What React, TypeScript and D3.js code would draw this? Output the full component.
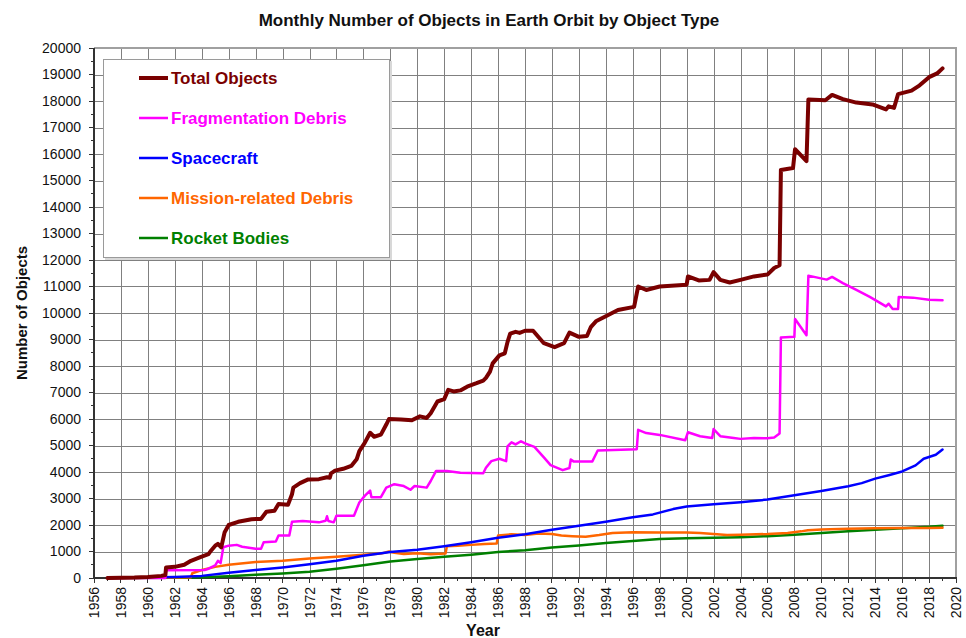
import React, { useEffect, useRef } from "react";
import * as d3 from "d3";

// [year, count] pairs
const totalObjects: [number, number][] = [
  [1957, 0], [1958, 5], [1959, 15], [1960, 40], [1961, 80], [1961.3, 110], [1961.35, 400],
  [1962, 420], [1962.7, 500], [1963.2, 650], [1963.9, 790], [1964.5, 900], [1964.7, 1040],
  [1965, 1220], [1965.2, 1290], [1965.45, 1160], [1965.7, 1730], [1966, 2000], [1966.7, 2120],
  [1967.7, 2220], [1968.4, 2230], [1968.8, 2500], [1969.4, 2540], [1969.7, 2790], [1970.4, 2760],
  [1970.7, 3160], [1970.8, 3410], [1971.3, 3580], [1971.9, 3720], [1972.7, 3730], [1973.3, 3800],
  [1973.5, 3780], [1973.6, 3950], [1973.9, 4050], [1974.5, 4120], [1975.1, 4230], [1975.5, 4480],
  [1975.7, 4790], [1976.1, 5100], [1976.5, 5480], [1976.8, 5330], [1977.3, 5410], [1977.7, 5790],
  [1977.9, 6000], [1978.8, 5980], [1979.6, 5950], [1980.2, 6100], [1980.7, 6040], [1981, 6220],
  [1981.5, 6660], [1982, 6750], [1982.3, 7100], [1982.7, 7040], [1983.2, 7080], [1983.7, 7220],
  [1984.4, 7350], [1984.9, 7450], [1985.1, 7550], [1985.4, 7790], [1985.6, 8100], [1986.1, 8400],
  [1986.5, 8480], [1986.7, 8900], [1986.9, 9220], [1987.3, 9290], [1987.6, 9250], [1988, 9330],
  [1988.6, 9330], [1989.4, 8860], [1990.2, 8710], [1990.9, 8860], [1991.3, 9260], [1992, 9100],
  [1992.6, 9130], [1992.9, 9480], [1993.3, 9700], [1994, 9880], [1994.9, 10110], [1996.1, 10230],
  [1996.4, 11000], [1997, 10870], [1998, 11000], [2000, 11070], [2000.1, 11380], [2000.9, 11230],
  [2001.7, 11250], [2002, 11540], [2002.5, 11250], [2003.2, 11150], [2004, 11250], [2005, 11380],
  [2006, 11450], [2006.5, 11700], [2006.9, 11800], [2007, 15400], [2007.9, 15470], [2008.05, 16180],
  [2008.9, 15730], [2009.04, 18060], [2010.3, 18030], [2010.8, 18230], [2011.6, 18070],
  [2012.6, 17940], [2013.8, 17870], [2014.8, 17680], [2015, 17800], [2015.4, 17740],
  [2015.7, 18260], [2016.7, 18390], [2017.3, 18590], [2018, 18900], [2018.6, 19040], [2019, 19230],
];

const fragmentationDebris: [number, number][] = [
  [1957, 0], [1961.3, 0], [1961.35, 290], [1964.2, 300], [1964.5, 350], [1965, 480], [1965.2, 650],
  [1965.4, 560], [1965.6, 1160], [1966, 1220], [1966.6, 1250], [1967, 1180], [1968, 1100],
  [1968.4, 1100], [1968.6, 1350], [1969.5, 1380], [1969.7, 1600], [1970.5, 1600], [1970.7, 2120],
  [1971.5, 2150], [1972.7, 2100], [1973.2, 2160], [1973.3, 2330], [1973.4, 2150], [1973.8, 2100],
  [1974, 2350], [1975.3, 2350], [1975.7, 2850], [1976.1, 3100], [1976.5, 3300], [1976.6, 3050],
  [1977.3, 3050], [1977.7, 3410], [1978.3, 3540], [1979, 3470], [1979.5, 3330], [1979.8, 3470],
  [1980.7, 3410], [1981, 3660], [1981.4, 4040], [1982.2, 4040], [1983.2, 3970], [1984.9, 3950],
  [1985.1, 4160], [1985.5, 4410], [1986.1, 4500], [1986.6, 4410], [1986.7, 4970], [1987, 5120],
  [1987.3, 5040], [1987.7, 5160], [1988, 5080], [1988.7, 4950], [1989.4, 4550], [1989.9, 4260],
  [1990.8, 4070], [1991.3, 4150], [1991.4, 4470], [1991.6, 4400], [1993, 4400], [1993.4, 4810],
  [1996.3, 4860], [1996.4, 5590], [1997, 5470], [1998, 5400], [1999.9, 5200], [2000.1, 5500],
  [2001, 5350], [2001.9, 5280], [2002, 5620], [2002.5, 5350], [2003.5, 5280], [2004, 5250],
  [2005, 5280], [2006, 5270], [2006.5, 5300], [2006.9, 5450], [2007, 9080], [2008, 9100],
  [2008.05, 9770], [2008.9, 9160], [2009.04, 11410], [2010.4, 11260], [2010.8, 11360],
  [2011.6, 11130], [2012.6, 10870], [2013.6, 10610], [2014.8, 10250], [2015, 10350],
  [2015.3, 10150], [2015.7, 10150], [2015.75, 10600], [2016.8, 10580], [2018, 10500], [2019, 10480],
];

const spacecraft: [number, number][] = [
  [1957, 0], [1960, 20], [1962, 40], [1964, 80], [1966, 200], [1968, 300], [1970, 400],
  [1972, 520], [1974, 650], [1976, 840], [1978, 980], [1980, 1070], [1982, 1200], [1984, 1350],
  [1986, 1520], [1988, 1650], [1990, 1820], [1992, 1970], [1994, 2120], [1996, 2290],
  [1997.5, 2400], [1999, 2600], [2000, 2700], [2002, 2780], [2004, 2860], [2006, 2960],
  [2008, 3120], [2010, 3280], [2012, 3460], [2013, 3580], [2014, 3750], [2015, 3880],
  [2016, 4020], [2017, 4250], [2017.6, 4500], [2018.5, 4650], [2019, 4850],
];

const missionDebris: [number, number][] = [
  [1957, 0], [1961.3, 20], [1963.2, 30], [1963.3, 180], [1964, 300], [1965, 420], [1966, 500],
  [1968, 600], [1970, 650], [1972, 740], [1974, 800], [1976, 880], [1977.3, 920], [1977.9, 1000],
  [1978.3, 950], [1979, 910], [1980, 930], [1981, 900], [1982.1, 920], [1982.2, 1200],
  [1983, 1220], [1984, 1250], [1985, 1280], [1985.9, 1300], [1986, 1600], [1987, 1650],
  [1988, 1620], [1989, 1680], [1990, 1660], [1990.7, 1600], [1991.5, 1580], [1992.5, 1560],
  [1993.5, 1620], [1994.5, 1700], [1996, 1730], [1998, 1720], [2000, 1720], [2001, 1700],
  [2002, 1660], [2003, 1620], [2004, 1630], [2006, 1660], [2007.5, 1700], [2008.5, 1760],
  [2009, 1800], [2010, 1830], [2012, 1860], [2014, 1880], [2016, 1890], [2018, 1890], [2019, 1900],
];

const rocketBodies: [number, number][] = [
  [1957, 0], [1962, 10], [1964, 30], [1966, 70], [1968, 120], [1970, 170], [1972, 240],
  [1974, 350], [1976, 480], [1978, 620], [1980, 720], [1982, 800], [1984, 880], [1986, 980],
  [1988, 1050], [1990, 1150], [1992, 1230], [1994, 1320], [1996, 1400], [1998, 1470],
  [2000, 1500], [2002, 1520], [2004, 1540], [2006, 1580], [2008, 1630], [2010, 1700],
  [2012, 1760], [2014, 1820], [2016, 1880], [2018, 1930], [2019, 1975],
];

const seriesNames = ["Total Objects", "Fragmentation Debris", "Spacecraft", "Mission-related Debris", "Rocket Bodies"];
const seriesColors = ["#7a0000", "#ff00ff", "#0000ff", "#ff6600", "#008000"];
const seriesData = [totalObjects, fragmentationDebris, spacecraft, missionDebris, rocketBodies];

const xTickYears = d3.range(1956, 2021, 2);
const yTickValues = d3.range(0, 20001, 1000);

const App = () => {
  const svgRef = useRef<SVGSVGElement>(null);

  useEffect(() => {
    const W = 966;
    const H = 638;
    const margin = { top: 48, right: 10, bottom: 60, left: 94 };
    const font = "Arial, 'Liberation Sans', sans-serif";

    const root = d3.select(svgRef.current);
    root.selectAll("*").remove();
    root.attr("width", W).attr("height", H);

    const x = d3.scaleLinear().domain([1956, 2020]).range([margin.left, W - margin.right]);
    const y = d3.scaleLinear().domain([0, 20000]).range([H - margin.bottom, margin.top]);

    root.append("rect").attr("width", W).attr("height", H).attr("fill", "#fff");

    // grid
    const grid = root.append("g").attr("stroke", "#808080").attr("stroke-width", 1).attr("shape-rendering", "crispEdges");
    grid.selectAll("line.v").data(xTickYears.slice(1, -1)).enter().append("line")
      .attr("x1", (d) => Math.round(x(d)) + 0.5).attr("x2", (d) => Math.round(x(d)) + 0.5)
      .attr("y1", y(20000)).attr("y2", y(0));
    grid.selectAll("line.h").data(yTickValues.slice(1, -1)).enter().append("line")
      .attr("y1", (d) => Math.round(y(d)) + 0.5).attr("y2", (d) => Math.round(y(d)) + 0.5)
      .attr("x1", x(1956)).attr("x2", x(2020));

    // frame (top/right gray)
    root.append("path")
      .attr("d", `M${x(1956)},${y(20000)}H${x(2020)}V${y(0)}`)
      .attr("fill", "none").attr("stroke", "#a0a0a0").attr("stroke-width", 2);

    // axes
    const axes = root.append("g").attr("stroke", "#333").attr("shape-rendering", "crispEdges");
    axes.append("line").attr("x1", x(1956)).attr("x2", x(1956)).attr("y1", y(20000)).attr("y2", y(0)).attr("stroke-width", 1.5);
    axes.append("line").attr("x1", x(1956)).attr("x2", x(2020) + 1).attr("y1", y(0)).attr("y2", y(0)).attr("stroke-width", 2);

    const yMinor = d3.range(500, 20000, 1000);
    axes.selectAll("line.ym").data(yTickValues).enter().append("line")
      .attr("x1", x(1956) - 5).attr("x2", x(1956)).attr("y1", (d) => y(d)).attr("y2", (d) => y(d));
    axes.selectAll("line.yn").data(yMinor).enter().append("line")
      .attr("x1", x(1956) - 3).attr("x2", x(1956)).attr("y1", (d) => y(d)).attr("y2", (d) => y(d));
    const xMinor = d3.range(1957, 2020, 2);
    axes.selectAll("line.xm").data(xTickYears).enter().append("line")
      .attr("x1", (d) => x(d)).attr("x2", (d) => x(d)).attr("y1", y(0)).attr("y2", y(0) + 5);
    axes.selectAll("line.xn").data(xMinor).enter().append("line")
      .attr("x1", (d) => x(d)).attr("x2", (d) => x(d)).attr("y1", y(0)).attr("y2", y(0) + 3);

    // tick labels
    root.append("g").selectAll("text").data(yTickValues).enter().append("text")
      .attr("x", x(1956) - 13).attr("y", (d) => y(d)).attr("dy", "0.35em")
      .attr("text-anchor", "end").attr("font-family", font).attr("font-size", 14).attr("fill", "#111")
      .text((d) => String(d));
    root.append("g").selectAll("text").data(xTickYears).enter().append("text")
      .attr("transform", (d) => `translate(${x(d)},${y(0) + 9}) rotate(-90)`)
      .attr("dy", "0.36em").attr("text-anchor", "end")
      .attr("font-family", font).attr("font-size", 14).attr("fill", "#111")
      .text((d) => String(d));

    // titles
    root.append("text").attr("x", 489).attr("y", 26).attr("text-anchor", "middle")
      .attr("font-family", font).attr("font-size", 17).attr("font-weight", "bold").attr("fill", "#111")
      .text("Monthly Number of Objects in Earth Orbit by Object Type");
    root.append("text").attr("transform", `translate(27,313) rotate(-90)`).attr("text-anchor", "middle")
      .attr("font-family", font).attr("font-size", 15).attr("font-weight", "bold").attr("fill", "#111")
      .text("Number of Objects");
    root.append("text").attr("x", 483).attr("y", 636).attr("text-anchor", "middle")
      .attr("font-family", font).attr("font-size", 16).attr("font-weight", "bold").attr("fill", "#111")
      .text("Year");

    // lines (draw in reverse so total is on top)
    const line = d3.line<[number, number]>().x((d) => x(d[0])).y((d) => y(d[1]));
    const order = [4, 3, 2, 1, 0];
    order.forEach((i) => {
      root.append("path").datum(seriesData[i]).attr("d", line)
        .attr("fill", "none").attr("stroke", seriesColors[i])
        .attr("stroke-width", i === 0 ? 4 : 2.5)
        .attr("stroke-linejoin", "round").attr("stroke-linecap", "round");
    });

    // legend
    const lg = root.append("g");
    lg.append("rect").attr("x", 105).attr("y", 61).attr("width", 287).attr("height", 199).attr("fill", "#d8d8d8");
    lg.append("rect").attr("x", 103.5).attr("y", 59.5).attr("width", 286).attr("height", 198)
      .attr("fill", "#fff").attr("stroke", "#9a9a9a").attr("stroke-width", 1);
    seriesNames.forEach((name, i) => {
      const cy = 78 + i * 40;
      lg.append("line").attr("x1", 139).attr("x2", 168).attr("y1", cy).attr("y2", cy)
        .attr("stroke", seriesColors[i]).attr("stroke-width", i === 0 ? 4 : 2.5);
      lg.append("text").attr("x", 171).attr("y", cy).attr("dy", "0.35em")
        .attr("font-family", font).attr("font-size", 17).attr("font-weight", "bold")
        .attr("fill", seriesColors[i]).text(name);
    });
  }, []);

  return <svg ref={svgRef} style={{ position: "absolute", left: 0, top: 0 }}></svg>;
};

export default App;
